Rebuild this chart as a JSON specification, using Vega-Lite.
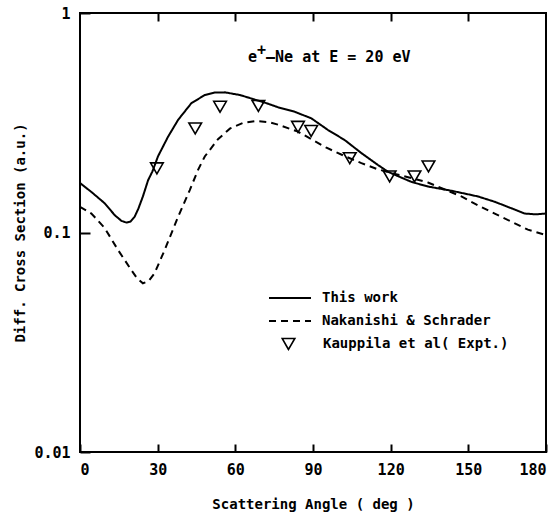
{
  "$schema": "https://vega.github.io/schema/vega-lite/v6.json",
  "width": 466,
  "height": 439,
  "autosize": "none",
  "padding": {"left": 80, "top": 13, "right": 12, "bottom": 63},
  "background": "white",
  "config": {
    "view": {"stroke": "black", "strokeWidth": 2},
    "font": "DejaVu Sans Mono",
    "axis": {
      "domain": false, "grid": false, "tickColor": "black", "tickWidth": 2,
      "labelColor": "black", "labelFont": "DejaVu Sans Mono", "labelFontWeight": "bold", "labelFontSize": 15,
      "titleFont": "DejaVu Sans Mono", "titleFontWeight": "bold", "titleFontSize": 14, "titleColor": "black"
    }
  },
  "datasets": {
    "curves": [
      {"series": "This work", "angle": 0, "value": 0.168},
      {"series": "This work", "angle": 4.4, "value": 0.153},
      {"series": "This work", "angle": 9.5, "value": 0.136},
      {"series": "This work", "angle": 13.4, "value": 0.120},
      {"series": "This work", "angle": 16, "value": 0.113},
      {"series": "This work", "angle": 17.9, "value": 0.111},
      {"series": "This work", "angle": 19.5, "value": 0.112},
      {"series": "This work", "angle": 21.1, "value": 0.118},
      {"series": "This work", "angle": 22.5, "value": 0.128},
      {"series": "This work", "angle": 24.3, "value": 0.146},
      {"series": "This work", "angle": 26.3, "value": 0.173},
      {"series": "This work", "angle": 28, "value": 0.190},
      {"series": "This work", "angle": 30.1, "value": 0.222},
      {"series": "This work", "angle": 34, "value": 0.273},
      {"series": "This work", "angle": 37.9, "value": 0.326},
      {"series": "This work", "angle": 43, "value": 0.388},
      {"series": "This work", "angle": 48.2, "value": 0.423},
      {"series": "This work", "angle": 52, "value": 0.434},
      {"series": "This work", "angle": 56, "value": 0.435},
      {"series": "This work", "angle": 61.8, "value": 0.423},
      {"series": "This work", "angle": 67, "value": 0.405},
      {"series": "This work", "angle": 72.1, "value": 0.388},
      {"series": "This work", "angle": 76.5, "value": 0.372},
      {"series": "This work", "angle": 82.9, "value": 0.355},
      {"series": "This work", "angle": 89.4, "value": 0.331},
      {"series": "This work", "angle": 95.8, "value": 0.293},
      {"series": "This work", "angle": 102.2, "value": 0.264},
      {"series": "This work", "angle": 108.7, "value": 0.230},
      {"series": "This work", "angle": 115.1, "value": 0.203},
      {"series": "This work", "angle": 119, "value": 0.189},
      {"series": "This work", "angle": 128, "value": 0.170},
      {"series": "This work", "angle": 134.4, "value": 0.162},
      {"series": "This work", "angle": 143.4, "value": 0.155},
      {"series": "This work", "angle": 153.7, "value": 0.146},
      {"series": "This work", "angle": 160.2, "value": 0.138},
      {"series": "This work", "angle": 166.6, "value": 0.129},
      {"series": "This work", "angle": 171.8, "value": 0.122},
      {"series": "This work", "angle": 176, "value": 0.121},
      {"series": "This work", "angle": 180, "value": 0.122},
      {"series": "Nakanishi & Schrader", "angle": 0, "value": 0.131},
      {"series": "Nakanishi & Schrader", "angle": 4.4, "value": 0.122},
      {"series": "Nakanishi & Schrader", "angle": 9.5, "value": 0.105},
      {"series": "Nakanishi & Schrader", "angle": 14.7, "value": 0.0832},
      {"series": "Nakanishi & Schrader", "angle": 19.8, "value": 0.0675},
      {"series": "Nakanishi & Schrader", "angle": 22, "value": 0.062},
      {"series": "Nakanishi & Schrader", "angle": 24.3, "value": 0.0587},
      {"series": "Nakanishi & Schrader", "angle": 26.5, "value": 0.060},
      {"series": "Nakanishi & Schrader", "angle": 28.8, "value": 0.0652},
      {"series": "Nakanishi & Schrader", "angle": 32.7, "value": 0.0832},
      {"series": "Nakanishi & Schrader", "angle": 37.9, "value": 0.118},
      {"series": "Nakanishi & Schrader", "angle": 42.4, "value": 0.156},
      {"series": "Nakanishi & Schrader", "angle": 45.6, "value": 0.193},
      {"series": "Nakanishi & Schrader", "angle": 48.2, "value": 0.222},
      {"series": "Nakanishi & Schrader", "angle": 53.3, "value": 0.266},
      {"series": "Nakanishi & Schrader", "angle": 58, "value": 0.298},
      {"series": "Nakanishi & Schrader", "angle": 63, "value": 0.316},
      {"series": "Nakanishi & Schrader", "angle": 68, "value": 0.322},
      {"series": "Nakanishi & Schrader", "angle": 73, "value": 0.318},
      {"series": "Nakanishi & Schrader", "angle": 76.5, "value": 0.310},
      {"series": "Nakanishi & Schrader", "angle": 84.2, "value": 0.288},
      {"series": "Nakanishi & Schrader", "angle": 89.4, "value": 0.266},
      {"series": "Nakanishi & Schrader", "angle": 95, "value": 0.244},
      {"series": "Nakanishi & Schrader", "angle": 102.2, "value": 0.223},
      {"series": "Nakanishi & Schrader", "angle": 108.7, "value": 0.207},
      {"series": "Nakanishi & Schrader", "angle": 115.1, "value": 0.194},
      {"series": "Nakanishi & Schrader", "angle": 121.6, "value": 0.185},
      {"series": "Nakanishi & Schrader", "angle": 128, "value": 0.177},
      {"series": "Nakanishi & Schrader", "angle": 134.4, "value": 0.169},
      {"series": "Nakanishi & Schrader", "angle": 140.9, "value": 0.157},
      {"series": "Nakanishi & Schrader", "angle": 147.3, "value": 0.146},
      {"series": "Nakanishi & Schrader", "angle": 153.7, "value": 0.133},
      {"series": "Nakanishi & Schrader", "angle": 160.2, "value": 0.122},
      {"series": "Nakanishi & Schrader", "angle": 166.6, "value": 0.112},
      {"series": "Nakanishi & Schrader", "angle": 173, "value": 0.103},
      {"series": "Nakanishi & Schrader", "angle": 180, "value": 0.0974}
    ],
    "expt": [
      {"series": "Kauppila et al( Expt.)", "angle": 29.7, "value": 0.196},
      {"series": "Kauppila et al( Expt.)", "angle": 44.5, "value": 0.298},
      {"series": "Kauppila et al( Expt.)", "angle": 54.1, "value": 0.374},
      {"series": "Kauppila et al( Expt.)", "angle": 68.9, "value": 0.377},
      {"series": "Kauppila et al( Expt.)", "angle": 84.2, "value": 0.303},
      {"series": "Kauppila et al( Expt.)", "angle": 89.3, "value": 0.29},
      {"series": "Kauppila et al( Expt.)", "angle": 104.2, "value": 0.218},
      {"series": "Kauppila et al( Expt.)", "angle": 119.6, "value": 0.18},
      {"series": "Kauppila et al( Expt.)", "angle": 129.2, "value": 0.18},
      {"series": "Kauppila et al( Expt.)", "angle": 134.6, "value": 0.2}
    ]
  },
  "layer": [
    {
      "data": {"name": "curves"},
      "mark": {"type": "line", "color": "black", "strokeWidth": 2, "clip": true},
      "encoding": {
        "x": {"field": "angle", "type": "quantitative", "scale": {"domain": [0, 180], "nice": false},
              "axis": {"orient": "bottom", "values": [0, 30, 60, 90, 120, 150, 180], "tickSize": -8, "labelPadding": 18,
                       "title": "Scattering Angle ( deg )", "titlePadding": 20}},
        "y": {"field": "value", "type": "quantitative", "scale": {"type": "log", "domain": [0.01, 1], "nice": false},
              "axis": {"values": [0.01, 0.1, 1], "format": "~g", "tickSize": -10, "labelPadding": 20,
                       "title": "Diff. Cross Section (a.u.)", "titlePadding": 6}},
        "strokeDash": {"field": "series", "type": "nominal",
          "scale": {"domain": ["This work", "Nakanishi & Schrader"], "range": [[1, 0], [7, 5]]},
          "legend": {"orient": "none", "legendX": 188, "legendY": 277, "title": null,
            "symbolType": "stroke", "symbolSize": 1764, "symbolStrokeWidth": 2, "symbolStrokeColor": "black",
            "clipHeight": 16, "rowPadding": 7,
            "labelFont": "DejaVu Sans Mono", "labelFontWeight": "bold", "labelFontSize": 14, "labelColor": "black",
            "labelOffset": 10, "labelLimit": 400}},
        "order": {"field": "angle", "type": "quantitative"}
      }
    },
    {
      "data": {"name": "expt"},
      "mark": {"type": "point", "filled": false, "stroke": "black", "strokeWidth": 1.6, "size": 160, "opacity": 1},
      "encoding": {
        "x": {"field": "angle", "type": "quantitative",
              "axis": {"orient": "top", "values": [30, 60, 90, 120, 150], "tickSize": -8, "labels": false, "title": null}},
        "y": {"field": "value", "type": "quantitative"},
        "shape": {"field": "series", "type": "nominal", "scale": {"range": ["triangle-down"]},
          "legend": {"orient": "none", "legendX": 201, "legendY": 323, "title": null,
            "symbolSize": 160, "symbolStrokeWidth": 1.6, "symbolStrokeColor": "black", "symbolFillColor": "transparent",
            "clipHeight": 16,
            "labelFont": "DejaVu Sans Mono", "labelFontWeight": "bold", "labelFontSize": 14, "labelColor": "black",
            "labelOffset": 27, "labelLimit": 400}}
      }
    },
    {
      "data": {"values": [{}]},
      "mark": {"type": "text", "text": "e", "align": "left", "baseline": "alphabetic",
               "font": "DejaVu Sans Mono", "fontWeight": "bold", "fontSize": 15, "color": "black"},
      "encoding": {
        "x": {"datum": 64.9, "type": "quantitative", "axis": null},
        "y": {"datum": 0.598, "type": "quantitative"}
      }
    },
    {
      "data": {"values": [{}]},
      "mark": {"type": "text", "text": "+", "align": "left", "baseline": "alphabetic", "dx": 9, "dy": -7,
               "font": "DejaVu Sans Mono", "fontWeight": "bold", "fontSize": 15, "color": "black"},
      "encoding": {
        "x": {"datum": 64.9, "type": "quantitative", "axis": null},
        "y": {"datum": 0.598, "type": "quantitative"}
      }
    },
    {
      "data": {"values": [{}]},
      "mark": {"type": "text", "text": "–Ne at E = 20 eV", "align": "left", "baseline": "alphabetic", "dx": 18,
               "font": "DejaVu Sans Mono", "fontWeight": "bold", "fontSize": 15, "color": "black"},
      "encoding": {
        "x": {"datum": 64.9, "type": "quantitative", "axis": null},
        "y": {"datum": 0.598, "type": "quantitative"}
      }
    }
  ],
  "resolve": {"axis": {"x": "independent"}}
}
